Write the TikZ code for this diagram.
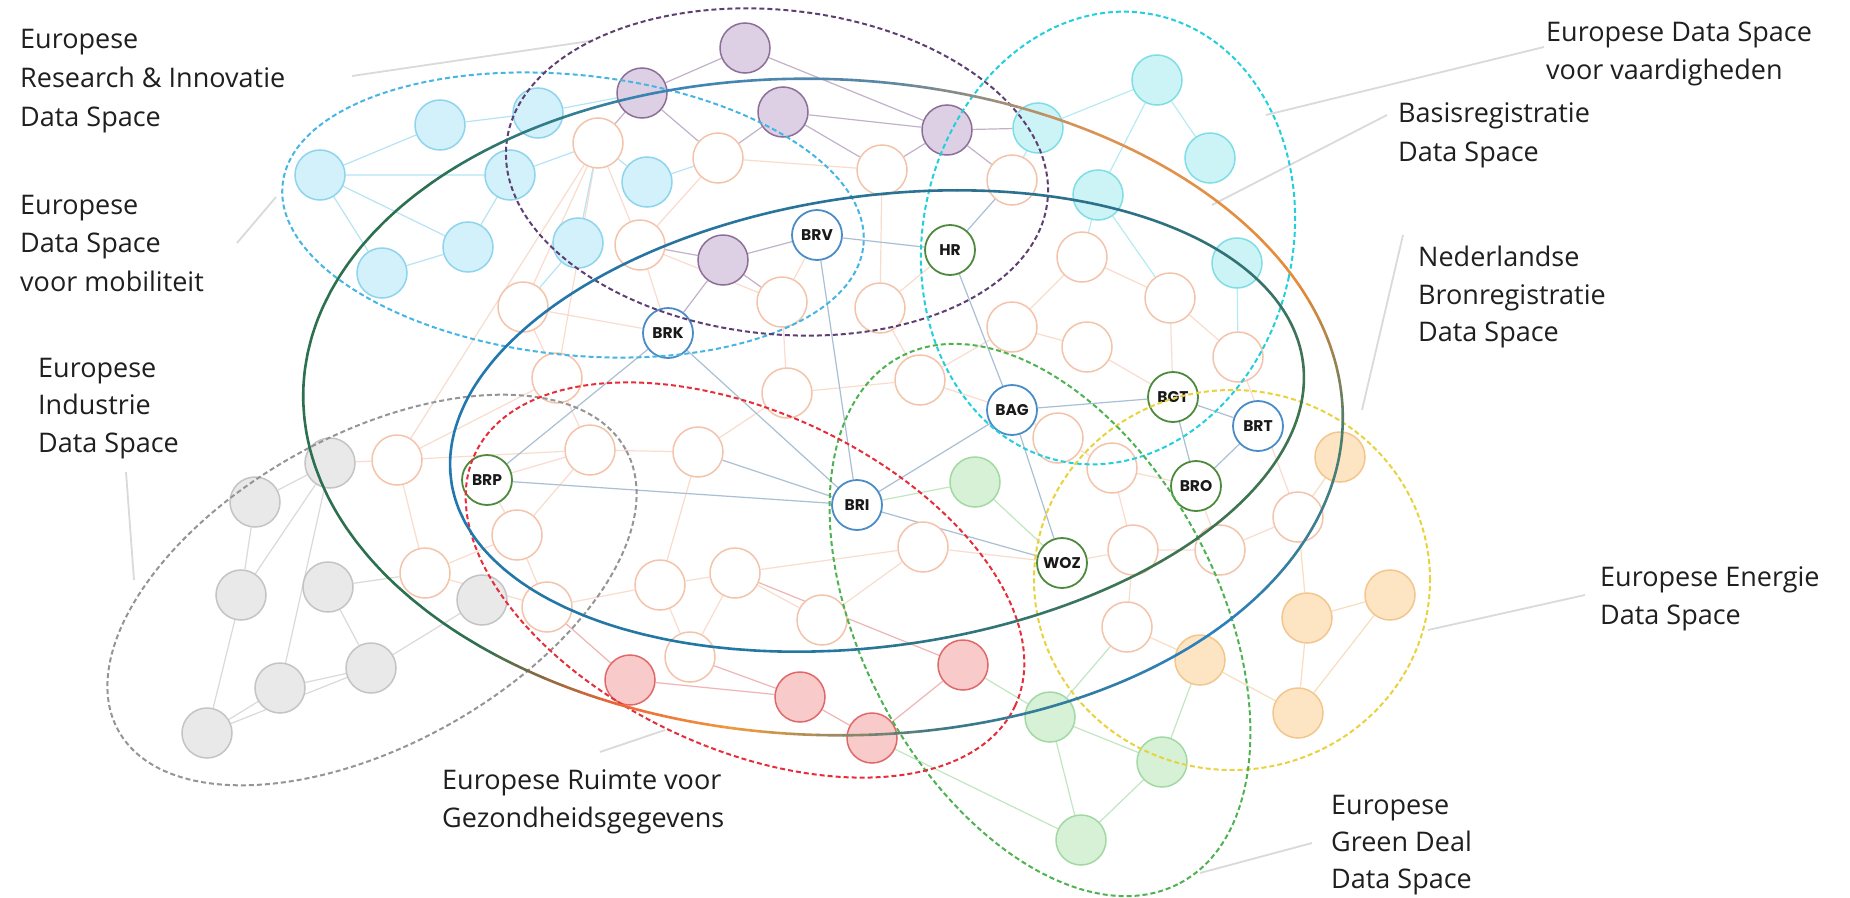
\documentclass[tikz,border=0pt]{standalone}
\usepackage{fontspec}
\newfontfamily\lblfont{Open Sans}
\newfontfamily\tagfont{Poppins}
\pgfdeclarelayer{edges}
\pgfdeclarelayer{rings}
\pgfsetlayers{edges,main,rings}

% text and leader lines
\definecolor{txt}{HTML}{1F1F1F}
\definecolor{lead}{HTML}{DADADA}
% node families: D = outline, F = fill, E = connectors
\definecolor{pkD}{HTML}{F3C3AA}\definecolor{pkE}{HTML}{F9DCCE}
\definecolor{cyD}{HTML}{8DD4EC}\definecolor{cyF}{HTML}{D2F1FB}\definecolor{cyE}{HTML}{B6E4F3}
\definecolor{puD}{HTML}{8C6E98}\definecolor{puF}{HTML}{DDD0E4}\definecolor{puE}{HTML}{C2B1CA}
\definecolor{tqD}{HTML}{7FDDE6}\definecolor{tqF}{HTML}{CCF4F7}\definecolor{tqE}{HTML}{B6ECF1}
\definecolor{grD}{HTML}{C4C4C4}\definecolor{grF}{HTML}{E9E9E9}\definecolor{grE}{HTML}{DADADA}
\definecolor{rdD}{HTML}{E06868}\definecolor{rdF}{HTML}{F9CACA}\definecolor{rdE}{HTML}{EFB4B4}
\definecolor{gnD}{HTML}{A2D9A2}\definecolor{gnF}{HTML}{D6F1D6}\definecolor{gnE}{HTML}{C2E6C2}
\definecolor{orD}{HTML}{F2C68C}\definecolor{orF}{HTML}{FDE5C3}\definecolor{orE}{HTML}{F8DDBE}
\definecolor{tagB}{HTML}{4A8CC8}\definecolor{tagG}{HTML}{4E8A3E}\definecolor{tagE}{HTML}{A9BFD4}
% dashed data-space rings
\definecolor{rPu}{HTML}{5E3F72}\definecolor{rCy}{HTML}{45B6E3}\definecolor{rTq}{HTML}{22CFDB}
\definecolor{rGr}{HTML}{959595}\definecolor{rRd}{HTML}{E62E3A}\definecolor{rGn}{HTML}{4DB24F}
\definecolor{rYe}{HTML}{E9D23C}
% solid rings (gradient stops)
\definecolor{oGG}{HTML}{4D7D68}\definecolor{oO}{HTML}{E88A35}\definecolor{oO2}{HTML}{DE9452}
\definecolor{oGB}{HTML}{5A87A5}\definecolor{oB}{HTML}{3A84B8}\definecolor{oDG}{HTML}{2C7050}
\definecolor{oR}{HTML}{EE6535}\definecolor{oO3}{HTML}{F09A40}\definecolor{oT}{HTML}{3A7888}
\definecolor{oB2}{HTML}{2A80C0}
\definecolor{iG}{HTML}{3E7452}\definecolor{iT}{HTML}{2D7088}\definecolor{iTB}{HTML}{2A7396}
\definecolor{iB}{HTML}{2178B0}\definecolor{iB2}{HTML}{2477A0}

% ellipse drawn as short arcs whose colour runs between stops
\newcommand\gradring[5]{%
  \foreach \pA/\pB/\cA/\cB in {#5}{%
    \foreach \kk in {0,...,7}{%
      \pgfmathsetmacro\tA{\pA+(\pB-\pA)*\kk/8}%
      \pgfmathsetmacro\tB{\pA+(\pB-\pA)*(\kk+1)/8}%
      \pgfmathtruncatemacro\mX{100-(2*\kk+1)*100/16}%
      \draw[shift={#1}, rotate=#4, line width=2.6pt, line cap=round, color=\cA!\mX!\cB]
        plot[domain=\tA:\tB, samples=5, smooth] ({#2*cos(\x)},{-#3*sin(\x)});
    }%
  }%
}

\begin{document}
\begin{tikzpicture}[x=1pt,y=-1pt,
  nd/.style={circle, minimum size=50pt, inner sep=0pt, line width=1.5pt},
  pk/.style={nd, draw=pkD, fill=white},
  cy/.style={nd, draw=cyD, fill=cyF},
  pu/.style={nd, draw=puD, fill=puF},
  tq/.style={nd, draw=tqD, fill=tqF},
  gy/.style={nd, draw=grD, fill=grF},
  rd/.style={nd, draw=rdD, fill=rdF},
  gn/.style={nd, draw=gnD, fill=gnF},
  og/.style={nd, draw=orD, fill=orF},
  tag/.style={nd, fill=white, line width=1.8pt, text=black!90,
    font=\tagfont\bfseries\fontsize{15.5}{15.5}\selectfont},
  tb/.style={tag, draw=tagB},
  tg/.style={tag, draw=tagG},
  lnk/.style={line width=1.2pt},
  ring/.style={line width=2pt, dash pattern=on 5pt off 3pt},
  lbl/.style={font=\lblfont\fontsize{27}{32}\selectfont, text=txt, anchor=base west, inner sep=0pt},
  leader/.style={draw=lead, line width=1.8pt}]

\useasboundingbox (0,0) rectangle (1850,897);

% ---------- nodes ----------
% mobility
\node[cy] (c1) at (320,175) {};
\node[cy] (c2) at (440,125) {};
\node[cy] (c3) at (538,113) {};
\node[cy] (c4) at (510,175) {};
\node[cy] (c5) at (468,247) {};
\node[cy] (c6) at (382,273) {};
\node[cy] (c7) at (647,182) {};
\node[cy] (c8) at (578,243) {};
% research & innovation
\node[pu] (p1) at (745,48) {};
\node[pu] (p2) at (642,93) {};
\node[pu] (p3) at (783,112) {};
\node[pu] (p4) at (947,130) {};
\node[pu] (p5) at (723,260) {};
% skills
\node[tq] (b1) at (1038,128) {};
\node[tq] (b2) at (1157,80) {};
\node[tq] (b3) at (1210,158) {};
\node[tq] (b4) at (1098,195) {};
\node[tq] (b5) at (1237,263) {};
% registrations (unlabelled)
\node[pk] (e1) at (598,143) {};
\node[pk] (e2) at (718,158) {};
\node[pk] (e3) at (640,245) {};
\node[pk] (e4) at (523,307) {};
\node[pk] (e5) at (782,302) {};
\node[pk] (e6) at (557,378) {};
\node[pk] (e7) at (787,393) {};
\node[pk] (e8) at (882,170) {};
\node[pk] (e9) at (1012,180) {};
\node[pk] (e10) at (1082,257) {};
\node[pk] (e11) at (1170,298) {};
\node[pk] (e12) at (880,308) {};
\node[pk] (e13) at (1012,327) {};
\node[pk] (e14) at (1087,347) {};
\node[pk] (e15) at (1238,357) {};
\node[pk] (e16) at (920,380) {};
\node[pk] (e17) at (1058,438) {};
\node[pk] (e18) at (1112,468) {};
\node[pk] (e19) at (923,547) {};
\node[pk] (e20) at (1133,550) {};
\node[pk] (e21) at (1220,550) {};
\node[pk] (e22) at (822,620) {};
\node[pk] (e23) at (1127,627) {};
\node[pk] (e24) at (1298,517) {};
\node[pk] (e25) at (397,460) {};
\node[pk] (e26) at (590,450) {};
\node[pk] (e27) at (698,452) {};
\node[pk] (e28) at (517,535) {};
\node[pk] (e29) at (425,573) {};
\node[pk] (e30) at (547,607) {};
\node[pk] (e31) at (660,585) {};
\node[pk] (e32) at (735,573) {};
\node[pk] (e33) at (690,657) {};
% industry
\node[gy] (y1) at (330,463) {};
\node[gy] (y2) at (255,502) {};
\node[gy] (y3) at (241,595) {};
\node[gy] (y4) at (328,587) {};
\node[gy] (y5) at (280,688) {};
\node[gy] (y6) at (371,668) {};
\node[gy] (y7) at (207,733) {};
\node[gy] (y8) at (482,600) {};
% health
\node[rd] (r1) at (630,680) {};
\node[rd] (r2) at (800,697) {};
\node[rd] (r3) at (872,738) {};
\node[rd] (r4) at (963,665) {};
% green deal
\node[gn] (g1) at (975,482) {};
\node[gn] (g2) at (1050,717) {};
\node[gn] (g3) at (1162,762) {};
\node[gn] (g4) at (1081,840) {};
% energy
\node[og] (o1) at (1340,457) {};
\node[og] (o2) at (1200,660) {};
\node[og] (o3) at (1307,618) {};
\node[og] (o4) at (1390,595) {};
\node[og] (o5) at (1298,713) {};
% base registrations
\node[tb] (BRV) at (817,235) {BRV};
\node[tg] (HR)  at (950,250) {HR};
\node[tb] (BRK) at (668,333) {BRK};
\node[tb] (BAG) at (1012,410) {BAG};
\node[tg] (BGT) at (1173,397) {BGT};
\node[tb] (BRT) at (1258,426) {BRT};
\node[tg] (BRO) at (1196,486) {BRO};
\node[tg] (BRP) at (487,480) {BRP};
\node[tb] (BRI) at (857,505) {BRI};
\node[tg] (WOZ) at (1062,563) {WOZ};

% ---------- connectors ----------
\begin{pgfonlayer}{edges}
\fill[white] (0,0) rectangle (1850,897);
\draw[lnk, pkE] (e1)--(e3) (e1)--(e4) (e1)--(e25) (e1)--(e6) (e2)--(e3)
  (e3)--(BRK) (e4)--(e6) (e4)--(BRK) (e3)--(e5) (e5)--(e7) (e6)--(e26)
  (e6)--(e25) (e7)--(e27) (e8)--(e12) (e10)--(e13) (e10)--(e11)
  (e11)--(BGT) (e11)--(e15) (e12)--(e16) (e12)--(HR) (e13)--(e14)
  (e13)--(e16) (e14)--(BGT) (e16)--(BAG) (e17)--(BAG) (e17)--(e18)
  (e18)--(BRO) (e18)--(e20) (e19)--(WOZ) (e19)--(e22) (e19)--(e32)
  (e20)--(WOZ) (e20)--(e21) (e20)--(e23) (e21)--(e24) (e21)--(BRO)
  (e24)--(e15) (e25)--(e26) (e25)--(e29) (e25)--(y1) (e26)--(e27)
  (e26)--(BRP) (e26)--(e28) (e28)--(BRP) (e28)--(e29) (e28)--(e30)
  (e29)--(e30) (e30)--(e31) (e31)--(e32) (e31)--(e33) (e32)--(e33)
  (e27)--(e31) (e22)--(e32) (e5)--(BRV) (e2)--(e8) (e7)--(e16);
\draw[lnk, cyE] (c1)--(c2) (c1)--(c4) (c1)--(c5) (c1)--(c6) (c2)--(c3)
  (c5)--(c6) (c4)--(c5) (c4)--(e1) (c3)--(p2) (c7)--(e2) (c8)--(e1)
  (c8)--(e4) (c7)--(e1);
\draw[lnk, puE] (p1)--(p2) (p1)--(p4) (p2)--(e2) (p2)--(e1) (p3)--(p4)
  (p3)--(e2) (p3)--(e8) (p4)--(b1) (p4)--(e9) (p4)--(e8) (p5)--(e3)
  (p5)--(e5) (p5)--(BRK) (p5)--(BRV);
\draw[lnk, tqE] (b1)--(b2) (b2)--(b3) (b2)--(b4) (b4)--(e10) (b4)--(e11)
  (b5)--(e15) (b1)--(e9);
\draw[lnk, tagE] (BRV)--(HR) (BRV)--(BRI) (HR)--(BAG) (HR)--(e9)
  (BRK)--(BRI) (BRK)--(BRP) (BRP)--(BRI) (BRI)--(BAG) (BRI)--(WOZ)
  (BAG)--(BGT) (BAG)--(WOZ) (BGT)--(BRT) (BGT)--(BRO) (BRT)--(BRO)
  (e27)--(BRI);
\draw[lnk, gnE] (g1)--(BRI) (g1)--(WOZ) (g2)--(g3) (g2)--(r4) (g2)--(e23)
  (g3)--(g4) (g2)--(g4) (g3)--(o2) (g4)--(r3);
\draw[lnk, rdE] (r1)--(r2) (r2)--(r3) (r3)--(r4) (r1)--(e30) (r2)--(e33)
  (r4)--(e32);
\draw[lnk, orE] (o3)--(o4) (o3)--(o5) (o4)--(o5) (o1)--(e24) (o2)--(o5)
  (o2)--(e23) (e24)--(o3);
\draw[lnk, grE] (y1)--(y2) (y1)--(y3) (y1)--(y5) (y2)--(y3) (y3)--(y7)
  (y4)--(y6) (y5)--(y6) (y5)--(y7) (y7)--(y6) (y4)--(e29) (y6)--(y8);
\end{pgfonlayer}

% ---------- data-space rings ----------
\begin{pgfonlayer}{rings}
\draw[ring, rGr, shift={(372,590)}, rotate=29] (0,0) ellipse[x radius=290pt, y radius=155pt];
\draw[ring, rCy, shift={(573,215)}, rotate=-6] (0,0) ellipse[x radius=292pt, y radius=140pt];
\draw[ring, rPu, shift={(777,172)}, rotate=-6] (0,0) ellipse[x radius=272pt, y radius=162pt];
\draw[ring, rTq, shift={(1108,238)}, rotate=-12] (0,0) ellipse[x radius=185pt, y radius=228pt];
\draw[ring, rYe, shift={(1232,580)}] (0,0) ellipse[x radius=198pt, y radius=190pt];
\draw[ring, rGn, shift={(1040,620)}, rotate=-62] (0,0) ellipse[x radius=298pt, y radius=178pt];
\draw[ring, rRd, shift={(745,580)}, rotate=-25] (0,0) ellipse[x radius=298pt, y radius=168pt];
\gradring{(877,421)}{430}{225}{8}{0/50/iG/iT, 50/90/iT/iTB, 90/150/iTB/iB, 150/260/iB/iB2, 260/300/iB2/iG, 300/360/iG/iG}
\gradring{(823,407)}{520}{328}{-2}{0/25/oGG/oO, 25/60/oO/oO2, 60/85/oO2/oGB, 85/110/oGB/oB, 110/140/oB/oDG, 140/230/oDG/oDG, 230/248/oDG/oR, 248/262/oR/oO3, 262/285/oO3/oT, 285/320/oT/oB2, 320/360/oB2/oGG}
\end{pgfonlayer}

% ---------- labels ----------
\node[lbl] (tRI1) at (20,48) {Europese};
\node[lbl] (tRI2) at (20,87) {Research \& Innovatie};
\node[lbl] (tRI3) at (20,126) {Data Space};
\node[lbl] (tMO1) at (20,214) {Europese};
\node[lbl] (tMO2) at (20,252) {Data Space};
\node[lbl] (tMO3) at (20,291) {voor mobiliteit};
\node[lbl] (tIN1) at (38,377) {Europese};
\node[lbl] (tIN2) at (38,414) {Industrie};
\node[lbl] (tIN3) at (38,452) {Data Space};
\node[lbl] (tSK1) at (1546,41) {Europese Data Space};
\node[lbl] (tSK2) at (1546,79) {voor vaardigheden};
\node[lbl] (tBA1) at (1398,122) {Basisregistratie};
\node[lbl] (tBA2) at (1398,161) {Data Space};
\node[lbl] (tNB1) at (1418,266) {Nederlandse};
\node[lbl] (tNB2) at (1418,304) {Bronregistratie};
\node[lbl] (tNB3) at (1418,341) {Data Space};
\node[lbl] (tEN1) at (1600,586) {Europese Energie};
\node[lbl] (tEN2) at (1600,624) {Data Space};
\node[lbl] (tGZ1) at (442,789) {Europese Ruimte voor};
\node[lbl] (tGZ2) at (442,827) {Gezondheidsgegevens};
\node[lbl] (tGD1) at (1331,814) {Europese};
\node[lbl] (tGD2) at (1331,851) {Green Deal};
\node[lbl] (tGD3) at (1331,888) {Data Space};

% ---------- leader lines ----------
\coordinate (kRIa) at (352,76);   \coordinate (kRIb) at (590,41);
\coordinate (kMOa) at (237,243);  \coordinate (kMOb) at (276,197);
\coordinate (kINa) at (126,472);  \coordinate (kINb) at (134,580);
\coordinate (kSKa) at (1266,115); \coordinate (kSKb) at (1544,47);
\coordinate (kBAa) at (1212,205); \coordinate (kBAb) at (1387,115);
\coordinate (kNBa) at (1403,235); \coordinate (kNBb) at (1362,410);
\coordinate (kENa) at (1428,630); \coordinate (kENb) at (1585,595);
\coordinate (kGZa) at (600,752);  \coordinate (kGZb) at (665,730);
\coordinate (kGDa) at (1200,873); \coordinate (kGDb) at (1312,843);
\draw[leader] (kRIa)--(kRIb) (kMOa)--(kMOb) (kINa)--(kINb) (kSKa)--(kSKb)
  (kBAa)--(kBAb) (kNBa)--(kNBb) (kENa)--(kENb) (kGZa)--(kGZb) (kGDa)--(kGDb);
\end{tikzpicture}
\end{document}
